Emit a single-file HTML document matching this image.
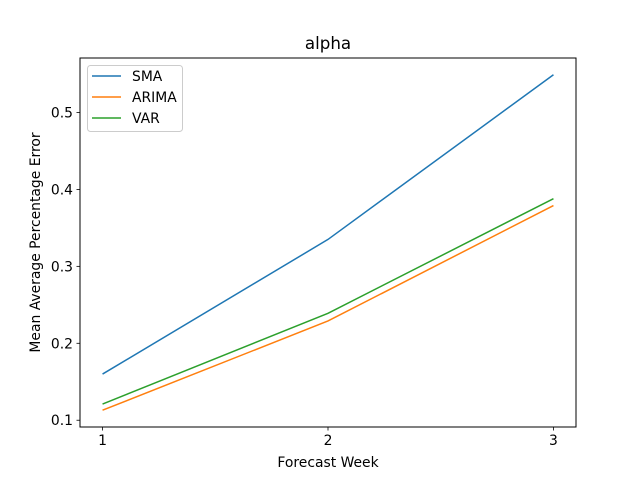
<!DOCTYPE html>
<html><head><meta charset="utf-8">
<style>
html,body{margin:0;padding:0;background:#fff;}
svg{display:block;font-family:"DejaVu Sans","Liberation Sans",sans-serif;}
</style></head>
<body>
<svg id="chart" width="640" height="480" viewBox="0 0 640 480">
<rect width="640" height="480" fill="#fff"/>
<text x="328" y="49" font-size="16.7" text-anchor="middle">alpha</text>
<g id="plot"></g>
<rect x="80" y="58" width="496" height="369" fill="none" stroke="#000" stroke-width="1"/>
<text x="328" y="467" font-size="13.9" text-anchor="middle">Forecast Week</text>
<text transform="translate(40,242.5) rotate(-90)" font-size="13.9" text-anchor="middle">Mean Average Percentage Error</text>
<g>
<rect x="87.5" y="65.5" width="95" height="66" rx="3" fill="#fff" fill-opacity="0.8" stroke="#ccc"/>
<line x1="92" y1="76" x2="121" y2="76" stroke="#1f77b4" stroke-width="1.5"/>
<text x="132" y="81" font-size="13.9">SMA</text>
<line x1="92" y1="97" x2="121" y2="97" stroke="#ff7f0e" stroke-width="1.5"/>
<text x="132" y="102" font-size="13.9">ARIMA</text>
<line x1="92" y1="118" x2="121" y2="118" stroke="#2ca02c" stroke-width="1.5"/>
<text x="132" y="123" font-size="13.9">VAR</text>
</g>
</svg>
<script>
const weeks = [1, 2, 3];
const sma = [0.160, 0.335, 0.549];
const arima = [0.113, 0.229, 0.379];
const varVals = [0.121, 0.239, 0.388];
const yTicks = [0.1, 0.2, 0.3, 0.4, 0.5];
const xTicks = [1, 2, 3];

const NS = "http://www.w3.org/2000/svg";
const g = document.getElementById("plot");
const L = 80, R = 576, T = 58, B = 427;
const all = sma.concat(arima, varVals);
let ymin = Math.min(...all), ymax = Math.max(...all);
const pad = (ymax - ymin) * 0.05; ymin -= pad; ymax += pad;
let xmin = Math.min(...weeks), xmax = Math.max(...weeks);
const xp = (xmax - xmin) * 0.05; xmin -= xp; xmax += xp;
const xs = v => L + (v - xmin) / (xmax - xmin) * (R - L);
const ys = v => B - (v - ymin) / (ymax - ymin) * (B - T);

function mk(tag, attrs) { const e = document.createElementNS(NS, tag); for (const k in attrs) e.setAttribute(k, attrs[k]); g.appendChild(e); return e; }

xTicks.forEach(t => {
  const x = xs(t);
  const tk = mk("line", {x1: x, y1: B, x2: x, y2: B + 3.5, stroke: "#000", "stroke-width": 0.8});
  
  
  const lb = mk("text", {x: x, y: B + 18, "font-size": 13.9, "text-anchor": "middle"});
  lb.textContent = t;
  
  
});
yTicks.forEach(t => {
  const y = ys(t);
  const tk = mk("line", {x1: L - 3.5, y1: y, x2: L, y2: y, stroke: "#000", "stroke-width": 0.8});
  
  
  const lb = mk("text", {x: L - 7, y: y + 5, "font-size": 13.9, "text-anchor": "end"});
  lb.textContent = t.toFixed(1);
  
  
});
function series(vals, color, name) {
  const pts = vals.map((v, i) => xs(weeks[i]) + "," + ys(v)).join(" ");
  const p = mk("polyline", {points: pts, fill: "none", stroke: color, "stroke-width": 1.5});
  
  
}
series(sma, "#1f77b4", "line-sma");
series(arima, "#ff7f0e", "line-arima");
series(varVals, "#2ca02c", "line-var");
</script>
</body></html>
